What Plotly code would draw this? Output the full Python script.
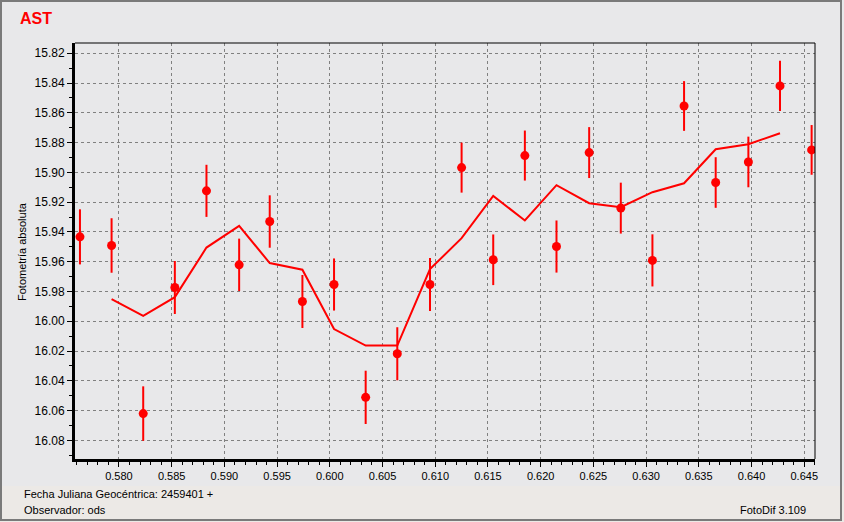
import plotly.graph_objects as go

# --- data ---
jd = [0.5763, 0.5793, 0.5823, 0.5853, 0.5883, 0.5914, 0.5943, 0.5974, 0.6004,
      0.6034, 0.6064, 0.6095, 0.6125, 0.6155, 0.6185, 0.6215, 0.6246, 0.6276,
      0.6306, 0.6336, 0.6366, 0.6397, 0.6427, 0.6457]
mag = [15.9433, 15.9491, 16.0620, 15.9773, 15.9124, 15.9621, 15.9330, 15.9867, 15.9753,
       16.0511, 16.0218, 15.9753, 15.8968, 15.9587, 15.8887, 15.9498, 15.8867, 15.9240,
       15.9591, 15.8554, 15.9068, 15.8930, 15.8419, 15.8849]
err = [0.0185, 0.0183, 0.0183, 0.0178, 0.0175, 0.0176, 0.0176, 0.0178, 0.0175,
       0.0179, 0.0178, 0.0178, 0.0168, 0.0170, 0.0168, 0.0175, 0.0171, 0.0171,
       0.0175, 0.0167, 0.0170, 0.0170, 0.0168, 0.0167]

avg_jd = jd[1:23]
avg_mag = [15.9851, 15.9963, 15.9838, 15.9505, 15.9359, 15.9609, 15.9654, 16.0052,
           16.0163, 16.0163, 15.9650, 15.9442, 15.9158, 15.9323, 15.9086, 15.9207,
           15.9234, 15.9133, 15.9073, 15.8845, 15.8811, 15.8737]

y_ticks = [15.82, 15.84, 15.86, 15.88, 15.90, 15.92, 15.94, 15.96, 15.98,
           16.00, 16.02, 16.04, 16.06, 16.08]

title = "AST"
y_title = "Fotometría absoluta"
foot_left1 = "Fecha Juliana Geocéntrica: 2459401 +"
foot_left2 = "Observador: ods"
foot_right = "FotoDif 3.109"

RED = "#FF0000"
BG = "#E8E8EA"
FONT = "Liberation Sans, Arial, sans-serif"

W, H = 844, 522
L, R, T, B = 75, 815, 43, 459


def px(x):
    return (x - L) / (R - L)


def py(y):
    return (B - y) / (B - T)


fig = go.Figure()
fig.add_trace(go.Scatter(x=avg_jd, y=avg_mag, mode="lines",
                         line=dict(color=RED, width=2), hoverinfo="skip",
                         showlegend=False))
fig.add_trace(go.Scatter(x=jd, y=mag, mode="markers",
                         marker=dict(color=RED, size=9),
                         error_y=dict(type="data", array=err, color=RED,
                                      thickness=2, width=0),
                         showlegend=False))

fig.update_layout(
    width=W, height=H,
    margin=dict(l=L, r=W - R, t=T, b=H - B, pad=0),
    paper_bgcolor=BG, plot_bgcolor=BG,
    font=dict(family=FONT, size=11, color="black"),
    showlegend=False,
)

GRID_DASH = "3px,3px"

fig.update_xaxes(
    range=[0.57583, 0.64602], tick0=0.58, dtick=0.005, tickformat=".3f",
    showgrid=True, gridcolor="#808080", griddash=GRID_DASH, gridwidth=1,
    showline=True, linecolor="black", linewidth=3,
    ticks="outside", ticklen=5, tickcolor="black", tickwidth=1,
    minor=dict(dtick=0.001, ticks="outside", ticklen=3, tickcolor="black", showgrid=False),
    zeroline=False, tickfont=dict(size=11),
)
fig.update_yaxes(
    range=[16.0925, 15.8131], tickvals=y_ticks, tickformat=".2f",
    showgrid=True, gridcolor="#808080", griddash=GRID_DASH, gridwidth=1,
    showline=True, linecolor="black", linewidth=3,
    ticks="outside", ticklen=5, tickcolor="black", tickwidth=1,
    minor=dict(dtick=0.01, ticks="outside", ticklen=3, tickcolor="black", showgrid=False),
    zeroline=False, tickfont=dict(size=12),
)

shapes = [
    # bottom strip
    dict(type="rect", xref="paper", yref="paper", x0=px(0), x1=px(W), y0=py(486), y1=py(H),
         fillcolor="#ECE9E6", line=dict(width=0), layer="below"),
    # thin top/right frame
    dict(type="line", xref="paper", yref="paper", x0=0, x1=1, y0=1, y1=1,
         line=dict(color="black", width=1)),
    dict(type="line", xref="paper", yref="paper", x0=1, x1=1, y0=0, y1=1,
         line=dict(color="black", width=1)),
    # outer window border
    dict(type="rect", xref="paper", yref="paper", x0=px(1), x1=px(841), y0=py(520), y1=py(1),
         line=dict(color="#7A7A7A", width=2), fillcolor="rgba(0,0,0,0)"),
]
fig.update_layout(shapes=shapes)

annots = [
    dict(text="<b>" + title + "</b>", x=px(18), y=py(19), xanchor="left", yanchor="middle",
         font=dict(size=16, color=RED, family=FONT)),
    dict(text=y_title, x=px(22), y=py(252), textangle=-90, xanchor="center", yanchor="middle",
         font=dict(size=11, color="black", family=FONT)),
    dict(text=foot_left1, x=px(22), y=py(494), xanchor="left", yanchor="middle",
         font=dict(size=11, color="black", family=FONT)),
    dict(text=foot_left2, x=px(22), y=py(510), xanchor="left", yanchor="middle",
         font=dict(size=11, color="black", family=FONT)),
    dict(text=foot_right, x=px(808), y=py(510), xanchor="right", yanchor="middle",
         font=dict(size=11, color="black", family=FONT)),
]
for a in annots:
    a.update(xref="paper", yref="paper", showarrow=False)
fig.update_layout(annotations=annots)

fig.write_html(
    "out.html",
    config={"displayModeBar": False},
    post_script="document.body.style.margin='0';document.body.style.padding='0';"
                "document.body.style.overflow='hidden';",
)
